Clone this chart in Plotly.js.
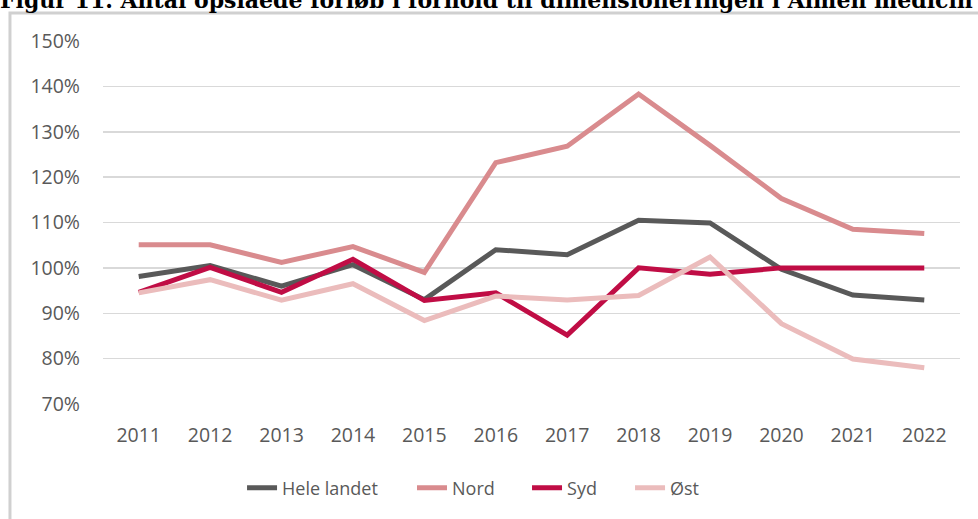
<!DOCTYPE html>
<html>
<head>
<meta charset="utf-8">
<script src="https://cdn.plot.ly/plotly-3.0.1.min.js"></script>
<style>html,body{margin:0;padding:0;background:#fff;}#chart{width:978px;height:519px;}</style>
</head>
<body>
<div id="chart"></div>
<script>
const years = ['2011','2012','2013','2014','2015','2016','2017','2018','2019','2020','2021','2022'];
const heleLandet = [0.981, 1.005, 0.960, 1.007, 0.930, 1.040, 1.029, 1.105, 1.099, 0.997, 0.940, 0.929];
const nord = [1.051, 1.051, 1.012, 1.047, 0.990, 1.232, 1.268, 1.383, 1.270, 1.153, 1.085, 1.076];
const syd = [0.946, 1.001, 0.946, 1.019, 0.928, 0.945, 0.852, 1.000, 0.986, 1.000, 1.000, 1.000];
const oest = [0.945, 0.974, 0.929, 0.965, 0.884, 0.938, 0.929, 0.939, 1.024, 0.877, 0.799, 0.780];
const seriesNames = ['Hele landet', 'Nord', 'Syd', 'Øst'];
const tickVals = [0.7, 0.8, 0.9, 1.0, 1.1, 1.2, 1.3, 1.4, 1.5];
const tickText = ['70%', '80%', '90%', '100%', '110%', '120%', '130%', '140%', '150%'];
const titleText = 'Figur 11. Antal opslåede forløb i forhold til dimensioneringen i Almen medicin';

const colors = ['#595959', '#d98b8e', '#c00d45', '#ebbcbc'];
const legendIds = ['legend', 'legend2', 'legend3', 'legend4'];
const legendX = [0.2405, 0.4159, 0.5346, 0.6409];
const data = [heleLandet, nord, syd, oest].map((vals, i) => ({
  type: 'scatter', mode: 'lines', x: years, y: vals, name: seriesNames[i],
  line: {color: colors[i], width: 5}, cliponaxis: false, legend: legendIds[i]
}));

const frameColor = '#d0d0d0';
const layout = {
  width: 978, height: 519,
  margin: {l: 9, r: 0, t: 12, b: 0},
  paper_bgcolor: '#ffffff', plot_bgcolor: '#ffffff',
  font: {family: 'Open Sans, Noto Sans, sans-serif', color: '#595959', size: 18},
  xaxis: {domain: [0.0970, 0.9814], type: 'category', tickvals: years, range: [-0.5, 11.5],
    showgrid: false, zeroline: false, showline: false, ticks: '', ticklabelstandoff: 17,
    tickfont: {size: 19.5, color: '#595959'}},
  yaxis: {domain: [0.2268, 0.9428], range: [0.7, 1.5], tickvals: tickVals, ticktext: tickText,
    showgrid: true, gridcolor: '#d9d9d9', gridwidth: 1.5, zeroline: false, showline: false,
    ticks: '', ticklabelstandoff: 22, tickfont: {size: 19.5, color: '#595959'}},
  showlegend: true,
  shapes: [
    {type: 'rect', xref: 'paper', yref: 'paper', x0: 0.001, x1: 1.2, y0: -0.2, y1: 0.998,
      line: {color: frameColor, width: 3}, fillcolor: 'rgba(0,0,0,0)', layer: 'above'}
  ],
  annotations: [{xref: 'paper', yref: 'paper', x: -0.0109, xanchor: 'left', y: 1.0231, yanchor: 'middle',
    text: '<b>' + titleText + '</b>', showarrow: false,
    font: {family: 'DejaVu Serif, Liberation Serif, serif', size: 22, color: '#000000'}}]
};
legendIds.forEach((id, i) => {
  layout[id] = {orientation: 'h', x: legendX[i], xanchor: 'left', y: 0.0611, yanchor: 'middle',
    font: {size: 18, color: '#595959'}, bgcolor: 'rgba(0,0,0,0)'};
});
Plotly.newPlot('chart', data, layout, {displayModeBar: false, staticPlot: true});
</script>
</body>
</html>
